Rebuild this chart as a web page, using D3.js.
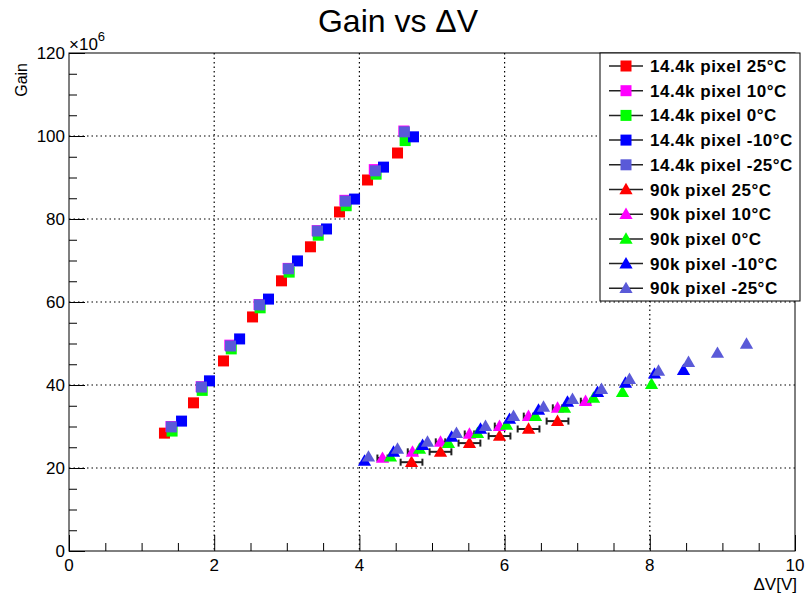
<!DOCTYPE html>
<html><head><meta charset="utf-8">
<script src="https://cdn.jsdelivr.net/npm/d3@7"></script>
<style>body{margin:0;background:#fff}svg{display:block}text{font-family:"Liberation Sans",Arial,sans-serif}</style>
</head><body>
<svg id="c" width="808" height="601"></svg>
<script>
// ---- data (gain in units of 10^6, ΔV in volts) ----
const xTicks = [0, 2, 4, 6, 8, 10];
const yTicks = [0, 20, 40, 60, 80, 100, 120];
const legendLabels = ["14.4k pixel 25°C","14.4k pixel 10°C","14.4k pixel 0°C","14.4k pixel -10°C","14.4k pixel -25°C",
                      "90k pixel 25°C","90k pixel 10°C","90k pixel 0°C","90k pixel -10°C","90k pixel -25°C"];
const colors = ["#ff0000","#ff00ff","#00ff00","#0000ff","#5a5ad8"];

const sq25x  = [1.315,1.715,2.128,2.528,2.927,3.326,3.726,4.112,4.525];
const sq25y  = [28.4,35.7,45.8,56.4,65.1,73.3,81.7,89.4,95.9];
const sq10x  = [1.405,1.82,2.215,2.618,3.018,3.418,3.8,4.205,4.612];
const sq10y  = [30.0,39.6,49.6,59.4,68.1,77.2,84.5,91.9,101.2];
const sq0x   = [1.42,1.835,2.235,2.633,3.033,3.433,3.818,4.23,4.63];
const sq0y   = [28.9,38.7,48.7,58.6,67.2,76.1,83.2,90.8,98.9];
const sqm10x = [1.55,1.935,2.35,2.748,3.147,3.547,3.933,4.332,4.745];
const sqm10y = [31.3,41.0,51.1,60.7,69.9,77.6,84.8,92.5,99.8];
const sqm25x = [1.41,1.825,2.225,2.623,3.023,3.423,3.808,4.22,4.62];
const sqm25y = [29.9,39.5,49.4,59.3,68.0,77.1,84.3,91.6,101.0];

const tr25x  = [4.718,5.117,5.516,5.93,6.33,6.729];
const tr25y  = [21.4,23.9,26.0,27.7,29.4,31.3];
const tr25e  = [0.15,0.15,0.15,0.15,0.15,0.15];
const tr10x  = [4.318,4.731,5.117,5.516,5.93,6.329,6.729,7.115];
const tr10y  = [22.4,23.9,26.3,28.2,30.1,32.5,34.5,36.1];
const tr10e  = [0.07,0.065,0.065,0.065,0.065,0.065,0.065,0.065];
const tr0x   = [4.428,4.828,5.227,5.627,6.026,6.426,6.825,7.225,7.624,8.024];
const tr0y   = [22.7,24.6,26.0,28.4,30.4,32.5,34.5,36.9,38.3,40.2];
const trm10x = [4.07,4.47,4.87,5.27,5.668,6.068,6.467,6.866,7.28,7.665,8.065,8.464];
const trm10y = [21.7,23.9,25.5,27.5,29.4,31.8,34.0,35.9,38.3,40.5,42.7,43.6];
const trm25x = [4.125,4.525,4.938,5.337,5.737,6.123,6.536,6.935,7.335,7.72,8.12,8.533,8.932,9.332];
const trm25y = [22.7,24.6,26.3,28.4,30.1,32.5,34.7,36.6,39.0,41.4,43.4,45.5,47.7,49.9];

const series = [
  {x:sq25x,y:sq25y,shape:"sq",c:0},{x:sq10x,y:sq10y,shape:"sq",c:1},{x:sq0x,y:sq0y,shape:"sq",c:2},
  {x:sqm10x,y:sqm10y,shape:"sq",c:3},{x:sqm25x,y:sqm25y,shape:"sq",c:4},
  {x:tr25x,y:tr25y,e:tr25e,shape:"tr",c:0},{x:tr10x,y:tr10y,e:tr10e,shape:"tr",c:1},{x:tr0x,y:tr0y,shape:"tr",c:2},
  {x:trm10x,y:trm10y,shape:"tr",c:3},{x:trm25x,y:trm25y,shape:"tr",c:4}
];

// ---- chart ----
const svg = d3.select("#c");
const L=69, R=795, T=53, B=551;
const x = d3.scaleLinear().domain([0,10]).range([L,R]);
const y = d3.scaleLinear().domain([0,120]).range([B,T]);

// grid
const g = svg.append("g");
g.selectAll("line.gx").data(xTicks.slice(1,-1)).join("line")
  .attr("x1",d=>x(d)).attr("x2",d=>x(d)).attr("y1",T).attr("y2",B)
  .attr("stroke","#000").attr("stroke-width",1.2).attr("stroke-dasharray","1.5,3");
g.selectAll("line.gy").data(yTicks.slice(1,-1)).join("line")
  .attr("y1",d=>y(d)).attr("y2",d=>y(d)).attr("x1",L).attr("x2",R)
  .attr("stroke","#000").attr("stroke-width",1.2).attr("stroke-dasharray","1.5,3");

// axes with inward ticks
const xAxis = d3.axisTop(x).tickValues(d3.range(0,10.01,0.5)).tickSize(8).tickFormat("");
const xa = svg.append("g").attr("transform",`translate(0,${B})`).call(xAxis);
xa.selectAll(".tick line").attr("y2",d=>(Math.abs(d%2)<1e-6)?-16:-8);
const yAxis = d3.axisRight(y).tickValues(d3.range(0,120.01,5)).tickSize(8).tickFormat("");
const ya = svg.append("g").attr("transform",`translate(${L},0)`).call(yAxis);
ya.selectAll(".tick line").attr("x2",d=>(Math.abs(d%20)<1e-6)?16:8);
[xa,ya].forEach(a=>{a.select(".domain").remove();a.selectAll("line").attr("stroke","#000");});

svg.append("rect").attr("x",L).attr("y",T).attr("width",R-L).attr("height",B-T)
  .attr("fill","none").attr("stroke","#000").attr("stroke-width",1);

// tick labels
svg.selectAll("text.xl").data(xTicks).join("text")
  .attr("x",d=>x(d)).attr("y",B+20).attr("text-anchor","middle")
  .attr("font-size",17).text(d=>d);
svg.selectAll("text.yl").data(yTicks).join("text")
  .attr("x",L-4).attr("y",d=>y(d)+6).attr("text-anchor","end")
  .attr("font-size",17).text(d=>d);

// axis titles
svg.append("text").attr("x",R+2).attr("y",590).attr("text-anchor","end").attr("font-size",17).text("ΔV[V]");
svg.append("text").attr("transform",`translate(27,63) rotate(-90)`).attr("text-anchor","end")
  .attr("font-size",16).text("Gain");
const mult = svg.append("text").attr("x",L).attr("y",T-3).attr("font-size",17);
mult.append("tspan").text("×10");
mult.append("tspan").attr("dy",-9).attr("font-size",13).text("6");

// title
svg.append("text").attr("x",398).attr("y",32).attr("text-anchor","middle").attr("font-size",32).text("Gain vs ΔV");

// markers
const sqS=11;
const triPath = d3.symbol().type(d3.symbolTriangle).size(76);
series.forEach(s=>{
  const pts = s.x.map((v,i)=>({x:v,y:s.y[i],e:s.e?s.e[i]:0}));
  const gg = svg.append("g");
  if(s.e){
    pts.forEach(p=>{
      const x1=x(p.x-p.e), x2=x(p.x+p.e), yy=y(p.y);
      gg.append("line").attr("x1",x1).attr("x2",x2).attr("y1",yy).attr("y2",yy).attr("stroke","#222").attr("stroke-width",2);
      [x1,x2].forEach(xx=>gg.append("line").attr("x1",xx).attr("x2",xx).attr("y1",yy-3.5).attr("y2",yy+3.5).attr("stroke","#222").attr("stroke-width",2));
    });
  }
  if(s.shape==="sq"){
    gg.selectAll("rect").data(pts).join("rect")
      .attr("x",p=>x(p.x)-sqS/2).attr("y",p=>y(p.y)-sqS/2).attr("width",sqS).attr("height",sqS)
      .attr("fill",colors[s.c]);
  } else {
    gg.selectAll("path").data(pts).join("path")
      .attr("transform",p=>`translate(${x(p.x)},${y(p.y)+1})`).attr("d",triPath)
      .attr("fill",colors[s.c]);
  }
});

// legend
const lg = svg.append("g");
lg.append("rect").attr("x",600).attr("y",T).attr("width",200).attr("height",248)
  .attr("fill","#fff").attr("stroke","#000").attr("stroke-width",1);
legendLabels.forEach((lab,i)=>{
  const yy = 66 + i*24.7;
  const s = series[i];
  lg.append("line").attr("x1",609).attr("x2",643).attr("y1",yy).attr("y2",yy).attr("stroke","#222").attr("stroke-width",1.5);
  if(s.shape==="sq"){
    lg.append("rect").attr("x",626-sqS/2).attr("y",yy-sqS/2).attr("width",sqS).attr("height",sqS).attr("fill",colors[s.c]);
  } else {
    lg.append("path").attr("transform",`translate(626,${yy+1})`).attr("d",triPath).attr("fill",colors[s.c]);
  }
  lg.append("text").attr("x",650).attr("y",yy+6).attr("font-size",17).attr("font-weight","bold")
    .attr("letter-spacing",0.5).text(lab);
});
</script>
</body></html>
